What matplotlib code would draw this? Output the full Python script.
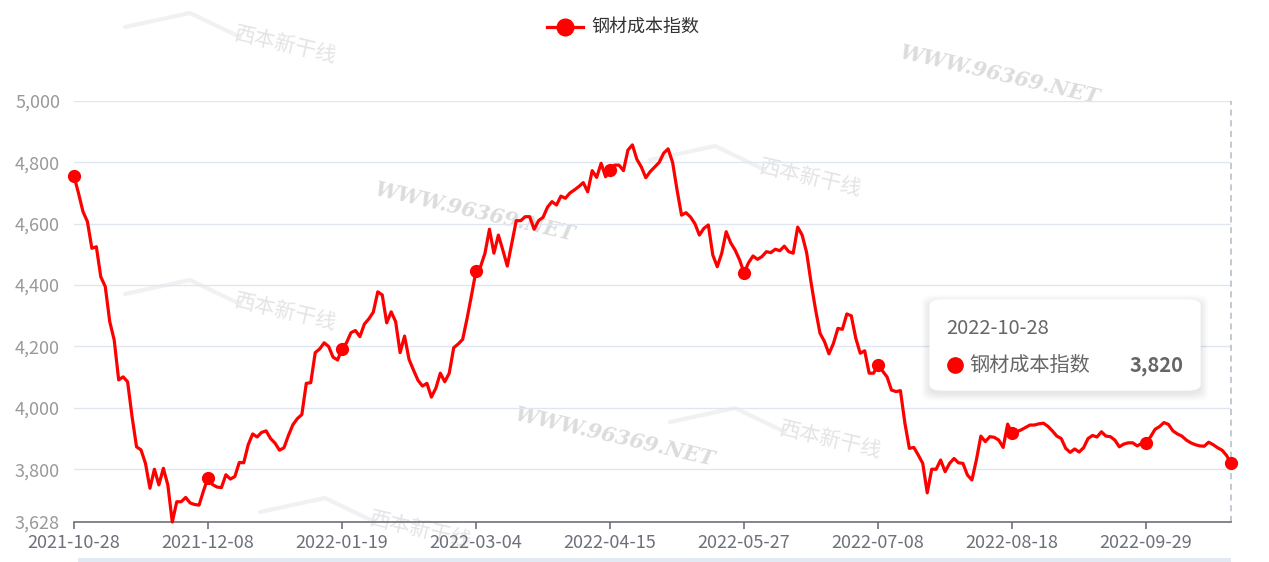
import matplotlib
matplotlib.use('Agg')
import matplotlib.pyplot as plt
from matplotlib.patches import FancyBboxPatch, Rectangle
from matplotlib.lines import Line2D

plt.rcParams['font.family'] = ['Noto Sans CJK SC', 'DejaVu Sans']

#==================
# Chart data
series_name = '钢材成本指数'
tick_dates = ['2021-10-28', '2021-12-08', '2022-01-19', '2022-03-04', '2022-04-15',
              '2022-05-27', '2022-07-08', '2022-08-18', '2022-09-29']
label_step = 30
last_date = '2022-10-28'

steel_cost = [
    4755, 4700, 4640, 4607, 4520, 4525, 4427, 4395, 4281, 4221,
    4091, 4101, 4085, 3971, 3873, 3863, 3819, 3738, 3800, 3749,
    3803, 3749, 3628, 3694, 3694, 3708, 3690, 3685, 3683, 3730,
    3772, 3750, 3742, 3740, 3782, 3768, 3776, 3822, 3821, 3880,
    3915, 3905, 3920, 3925, 3900, 3885, 3862, 3870, 3910, 3945,
    3965, 3978, 4080, 4082, 4180, 4192, 4212, 4200, 4165, 4156,
    4192, 4212, 4245, 4252, 4232, 4273, 4290, 4312, 4378, 4368,
    4277, 4313, 4281, 4180, 4234, 4158, 4123, 4090, 4071, 4080,
    4035, 4064, 4113, 4085, 4113, 4196, 4208, 4223, 4292, 4368,
    4447, 4460, 4504, 4582, 4504, 4563, 4514, 4462, 4536, 4610,
    4610, 4623, 4623, 4582, 4610, 4621, 4654, 4672, 4661, 4690,
    4683, 4700, 4710, 4721, 4734, 4704, 4773, 4751, 4797, 4753,
    4775, 4791, 4791, 4773, 4840, 4857, 4810, 4785, 4750, 4770,
    4785, 4800, 4830, 4844, 4800, 4710, 4628, 4636, 4622, 4600,
    4563, 4585, 4596, 4498, 4460, 4504, 4574, 4538, 4514, 4482,
    4440, 4473, 4495, 4484, 4493, 4509, 4506, 4517, 4512, 4527,
    4509, 4504, 4589, 4563, 4506, 4408, 4320, 4243, 4216, 4176,
    4210, 4259, 4256, 4306, 4300, 4227, 4178, 4186, 4113, 4113,
    4140, 4120, 4101, 4058, 4053, 4056, 3950, 3868, 3871, 3846,
    3819, 3723, 3800, 3800, 3830, 3792, 3819, 3835, 3821, 3819,
    3781, 3765, 3830, 3908, 3890, 3906, 3904, 3895, 3871, 3947,
    3917, 3922, 3928, 3936, 3944, 3944, 3948, 3950, 3940, 3925,
    3908, 3900, 3868, 3855, 3866, 3856, 3870, 3900, 3910, 3905,
    3922, 3908, 3906, 3895, 3873, 3882, 3886, 3886, 3876, 3884,
    3886, 3906, 3930, 3939, 3952, 3946, 3925, 3915, 3908, 3895,
    3886, 3880, 3876, 3875, 3888, 3880, 3870, 3862, 3845, 3820,
]
y_ticks = [3628, 3800, 4000, 4200, 4400, 4600, 4800, 5000]

#==================
# Figure and axes
W, H = 1269, 562
fig = plt.figure(figsize=(W / 100, H / 100), dpi=100, facecolor='white')
ax = fig.add_axes([74 / W, 1 - 522 / H, (1231 - 74) / W, (522 - 101) / H])
ax.patch.set_alpha(0)

n = len(steel_cost)
xs = list(range(n))

# watermarks (faint, behind the line)
for (wx, wy) in [(475, 212), (1000, 75), (615, 437)]:
    fig.text(wx / W, 1 - wy / H, 'WWW.96369.NET', family='DejaVu Serif', style='italic',
             weight='bold', fontsize=15, color='#dcdcdc', rotation=-13,
             ha='center', va='center', zorder=-1)
for (wx, wy) in [(285, 45), (810, 178), (285, 312), (830, 440), (420, 530)]:
    fig.text(wx / W, 1 - wy / H, '西本新干线', fontsize=15, color='#e4e4e4', rotation=-13,
             ha='center', va='center', zorder=-1)
    # swoosh of the logo
    fig.add_artist(Line2D([(wx - 160) / W, (wx - 95) / W, (wx - 45) / W],
                          [1 - (wy - 18) / H, 1 - (wy - 32) / H, 1 - (wy - 8) / H],
                          color='#f1f1f1', lw=3, solid_capstyle='round', zorder=-1))

# grid lines
for yt in y_ticks[1:]:
    ax.axhline(yt, color='#e0e6f1', lw=1, zorder=1)

ax.plot(xs, steel_cost, color='#ff0000', lw=2.3, zorder=3,
        marker='o', markersize=8.5, markevery=list(range(0, n, label_step)) + [n - 1],
        solid_joinstyle='round', clip_on=False)

# axis pointer at the highlighted point
ax.axvline(n - 1, color='#b4b9c3', lw=1.1, ls=(0, (4, 3)), zorder=2, clip_on=False)

ax.set_xlim(0, n - 1)
ax.set_ylim(y_ticks[0], y_ticks[-1])
ax.set_xticks(list(range(0, n, label_step)))
ax.set_xticklabels(tick_dates)
ax.set_yticks(y_ticks)
ax.set_yticklabels([f'{v:,}' for v in y_ticks])

for s in ['top', 'right', 'left']:
    ax.spines[s].set_visible(False)
ax.spines['bottom'].set_color('#6e7079')
ax.spines['bottom'].set_linewidth(1.2)
ax.tick_params(axis='x', colors='#6e7079', labelsize=13, length=5, width=1.2, pad=4)
ax.tick_params(axis='y', colors='#999999', labelsize=13, length=0, pad=10)

#==================
# Legend (top centre)
ly = 1 - 27 / H
fig.add_artist(Line2D([547 / W, 583 / W], [ly, ly], color='#ff0000', lw=2.3))
fig.add_artist(Line2D([565 / W], [ly], color='#ff0000', marker='o', markersize=12))
fig.text(591 / W, ly, series_name, fontsize=13, color='#333333', va='center', ha='left')

#==================
# Tooltip box with a soft shadow
for k in range(1, 9):
    fig.add_artist(FancyBboxPatch(((930 - k) / W, 1 - (390 + k + 3) / H),
                                  (270 + 2 * k) / W, (90 + 2 * k) / H,
                                  boxstyle='round,pad=0,rounding_size=0.012',
                                  transform=fig.transFigure, facecolor='black',
                                  edgecolor='none', alpha=0.012, zorder=9))
fig.add_artist(FancyBboxPatch((930 / W, 1 - 390 / H), 270 / W, 90 / H,
                              boxstyle='round,pad=0,rounding_size=0.01',
                              transform=fig.transFigure, facecolor='white',
                              edgecolor='white', lw=1, zorder=10))
fig.text(946 / W, 1 - 328 / H, last_date, fontsize=14.5, color='#666666',
         va='center', ha='left', zorder=11)
fig.add_artist(Line2D([955 / W], [1 - 365 / H], color='#ff0000', marker='o',
                      markersize=11, zorder=11))
fig.text(969 / W, 1 - 365 / H, series_name, fontsize=14.5, color='#666666',
         va='center', ha='left', zorder=11)
fig.text(1184 / W, 1 - 365 / H, f'{steel_cost[-1]:,}', fontsize=14.5, color='#666666',
         weight='bold', va='center', ha='right', zorder=11)

# data zoom strip at the very bottom
fig.add_artist(Rectangle((78 / W, 0), (1231 - 78) / W, 4 / H, transform=fig.transFigure,
                         facecolor='#e3e9f3', edgecolor='none'))

fig.savefig('out.png', dpi=100, facecolor='white')
